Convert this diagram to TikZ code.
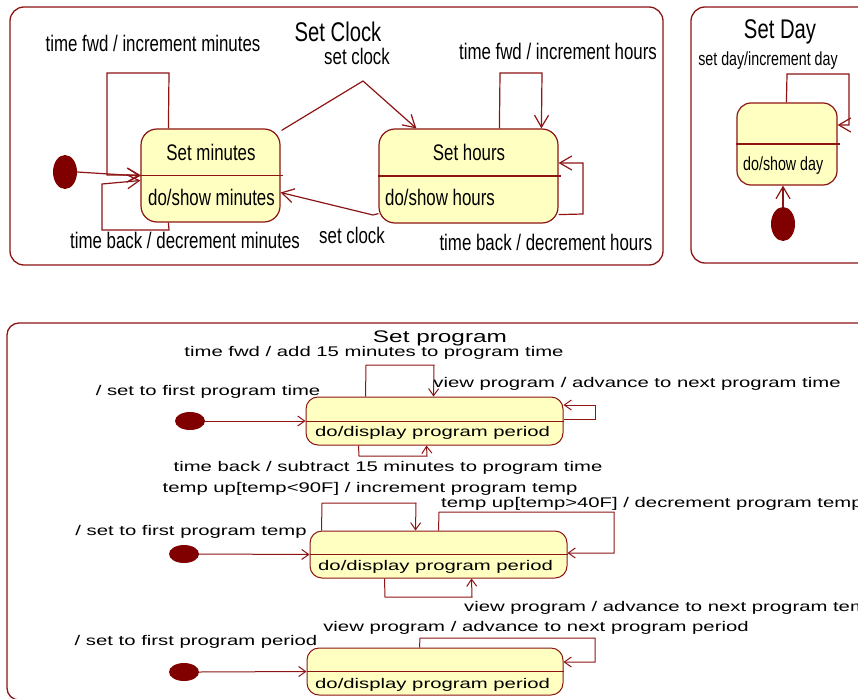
\documentclass[tikz,border=0pt]{standalone}
\usepackage{fontspec}
\setmainfont{Liberation Sans}
\newfontfamily\narrowsans[FakeStretch=0.75]{Liberation Sans}
\newfontfamily\widesans[FakeStretch=1.45]{Liberation Sans}
\usetikzlibrary{arrows.meta,calc,shapes.geometric}
\definecolor{umlline}{RGB}{140,20,20}
\definecolor{umldot}{RGB}{128,0,0}
\definecolor{statefill}{RGB}{255,255,194}

\begin{document}
\begin{tikzpicture}[x=1pt,y=-1pt,
  frame/.style={draw=umlline, line width=1.3pt, rounded corners=14pt},
  statebox/.style={draw=umlline, fill=statefill, line width=1.2pt, rounded corners=16pt,
    inner sep=0pt, shape=rectangle},
  pstate/.style={statebox, rounded corners=12pt, line width=1pt},
  divider/.style={draw=umlline, line width=1.2pt},
  pdivider/.style={draw=umlline, line width=1pt},
  initdot/.style={shape=ellipse, fill=umldot, draw=none, inner sep=0pt,
    minimum width=24pt, minimum height=34pt},
  pinitdot/.style={shape=ellipse, fill=umldot, draw=none, inner sep=0pt,
    minimum width=30pt, minimum height=18pt},
  toplbl/.style={font=\narrowsans\fontsize{22.5}{24}\selectfont, inner sep=0pt},
  smalllbl/.style={font=\narrowsans\fontsize{19}{20}\selectfont, inner sep=0pt},
  toptitle/.style={font=\narrowsans\fontsize{27}{28}\selectfont, inner sep=0pt},
  botlbl/.style={font=\widesans\fontsize{14}{16}\selectfont, inner sep=0pt},
  bottitle/.style={font=\widesans\fontsize{16.8}{18}\selectfont, inner sep=0pt},
  tarrow/.style={draw=umlline, line width=1.2pt, -{Straight Barb[length=12pt,width=14pt]}},
  barrow/.style={draw=umlline, line width=1pt, -{Straight Barb[length=7pt,width=10pt]}}]

\useasboundingbox (0,0) rectangle (858,698);
\clip (0,0) rectangle (858,698);

% ---------------- Set Clock ----------------
\draw[frame] (10,7) rectangle (663,265);
\node[toptitle] (tclock) at (338,32) {Set Clock};

\node[statebox, minimum width=139pt, minimum height=93pt] (sm) at (210.5,175.5) {};
\draw[divider] (sm.west) -- ($(sm.east)+(2,0)$);
\node[toplbl] (smname) at (211,152) {Set minutes};
\node[toplbl, anchor=west] (smdo) at (148,197) {do/show minutes};

\node[statebox, minimum width=179pt, minimum height=94pt] (sh) at (468.5,176) {};
\draw[divider] (sh.west) -- ($(sh.east)+(2,0)$);
\node[toplbl] (shname) at (469,152) {Set hours};
\node[toplbl, anchor=west] (shdo) at (385,197) {do/show hours};

\node[initdot] (i1) at (65,172) {};
\draw[tarrow] (i1.east) -- ($(sm.west)+(0,0.5)$);

% minutes: self transitions
\draw[tarrow] ($(sm.north west)+(28,0)$) -- (169,73) -- (107,73) -- (107,175) -- ($(sm.west)+(0,-0.5)$);
\node[toplbl] (lfwdm) at (153,43) {time fwd / increment minutes};
\draw[tarrow] ($(sm.south west)+(28,0)$) -- (169,230) -- (102,230) -- (102,184) -- ($(sm.west)+(0,5)$);
\node[toplbl] (lbackm) at (185,240) {time back / decrement minutes};

% minutes <-> hours
\draw[tarrow] ($(sm.north east)+(1,2)$) -- (363,81) -- ($(sh.north west)+(38,0)$);
\node[toplbl] (lset1) at (357,56) {set clock};
\draw[tarrow] ($(sh.south west)+(0,-10)$) -- (373,215) -- ($(sm.east)+(0,17)$);
\node[toplbl] (lset2) at (352,235) {set clock};

% hours: self transitions
\draw[tarrow] ($(sh.north west)+(121,0)$) -- (500,73) -- (542,73) -- ($(sh.north west)+(163,0)$);
\node[toplbl] (lfwdh) at (558,51) {time fwd / increment hours};
\draw[tarrow] ($(sh.south east)+(0,-9)$) -- (583,214) -- (583,163) -- ($(sh.east)+(0,-13)$);
\node[toplbl] (lbackh) at (546,242) {time back / decrement hours};

% ---------------- Set Day ----------------
\draw[frame] (691,7) rectangle (900,263);
\node[toptitle] (tday) at (780,32) {Set Day};
\node[statebox, rounded corners=14pt, minimum width=100pt, minimum height=82pt] (sd) at (787,144) {};
\draw[divider] (sd.west) -- ($(sd.east)+(2,0)$);
\node[smalllbl, anchor=west] (sddo) at (743,166) {do/show day};
\draw[tarrow] ($(sd.north west)+(50,0)$) -- (787,74) -- (849,74) -- (849,125) -- ($(sd.east)+(0,-19)$);
\node[smalllbl] (lday) at (768,61) {set day/increment day};
\node[initdot] (i4) at (783,224) {};
\draw[tarrow] (i4.north) -- (i4.north |- sd.south);

% ---------------- Set program ----------------
\draw[frame, rounded corners=12pt] (7,323) rectangle (900,700);
\node[bottitle] (tprog) at (440,338) {Set program};

% program time
\node[pstate, minimum width=257pt, minimum height=48pt] (p1) at (434.5,421) {};
\draw[pdivider] (p1.west) -- (p1.east);
\node[botlbl, anchor=west] (p1do) at (315,433) {do/display program period};
\node[pinitdot] (j1) at (190,421) {};
\draw[barrow] (j1.east) -- (p1.west);
\node[botlbl] (lj1) at (208,391.5) {/ set to first program time};
\draw[barrow] ($(p1.north west)+(60,0)$) -- (366,365) -- (434,365) -- ($(p1.north west)+(128,0)$);
\node[botlbl] (lfwdp) at (374,352.5) {time fwd / add 15 minutes to program time};
\draw[barrow] ($(p1.east)+(0,-2)$) -- (595,419) -- (595,405) -- ($(p1.east)+(0,-16)$);
\node[botlbl] (lviewt) at (637,383.5) {view program / advance to next program time};
\draw[barrow] ($(p1.south west)+(53,0)$) -- (359,456) -- (427,456) -- ($(p1.south west)+(121,0)$);
\node[botlbl] (lbackp) at (388,467.5) {time back / subtract 15 minutes to program time};

% program temperature
\node[pstate, minimum width=257pt, minimum height=47pt] (p2) at (438.5,554.5) {};
\draw[pdivider] (p2.west) -- (p2.east);
\node[botlbl, anchor=west] (p2do) at (318,567) {do/display program period};
\node[pinitdot] (j2) at (184,554) {};
\draw[barrow] (j2.east) -- (p2.west);
\node[botlbl] (lj2) at (191,531.5) {/ set to first program temp};
\draw[barrow] ($(p2.north west)+(12,0)$) -- (322,503) -- (416,503) -- ($(p2.north west)+(106,0)$);
\node[botlbl] (lup) at (370,488.5) {temp up[temp<90F] / increment program temp};
\draw[barrow] ($(p2.north west)+(129,0)$) -- (439,512) -- (614,512) -- (614,553) -- ($(p2.east)+(0,-1.5)$);
\node[botlbl, anchor=west] (ldown) at (441,503.5) {temp up[temp>40F] / decrement program temp};
\draw[barrow] ($(p2.south west)+(75,0)$) -- (385,597) -- (472,597) -- ($(p2.south west)+(162,0)$);
\node[botlbl, anchor=west] (lviewtemp) at (464,607.5) {view program / advance to next program temp};

% program period
\node[pstate, minimum width=256pt, minimum height=47pt] (p3) at (435,671.5) {};
\draw[pdivider] (p3.west) -- (p3.east);
\node[botlbl, anchor=west] (p3do) at (315,685) {do/display program period};
\node[pinitdot] (j3) at (184,672) {};
\draw[barrow] (j3.east) -- (p3.west);
\node[botlbl] (lj3) at (196,641.5) {/ set to first program period};
\draw[barrow] ($(p3.north west)+(113,0)$) -- (420,638) -- (595,638) -- (595,662) -- ($(p3.east)+(0,-9.5)$);
\node[botlbl] (lviewper) at (536,627.5) {view program / advance to next program period};
\end{tikzpicture}
\end{document}
